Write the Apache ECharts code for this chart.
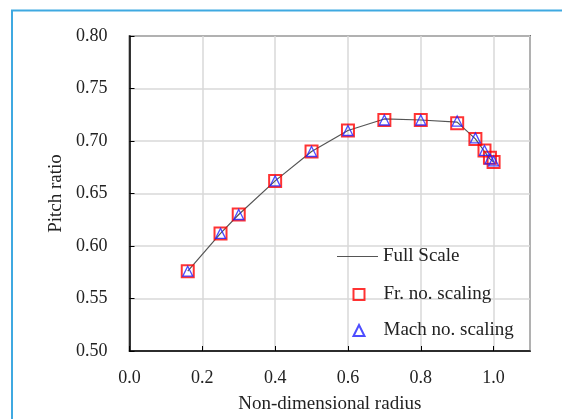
<!DOCTYPE html>
<html>
<head>
<meta charset="utf-8">
<script src="https://cdn.jsdelivr.net/npm/echarts@6/dist/echarts.min.js"></script>
<style>
html,body{margin:0;padding:0;background:#fff;}
#chart{width:562px;height:419px;}
</style>
</head>
<body>
<div id="chart"></div>
<script>
// Non-dimensional radius
var radius = [0.16, 0.25, 0.30, 0.40, 0.50, 0.60, 0.70, 0.80, 0.90, 0.95, 0.975, 0.99, 1.00];
// Full scale pitch ratio (line)
var fullScale = [0.576, 0.612, 0.630, 0.662, 0.690, 0.710, 0.721, 0.720, 0.718, 0.702, 0.690, 0.683, 0.680];
// Froude number scaling (squares)
var frScaling = [0.576, 0.612, 0.630, 0.662, 0.690, 0.710, 0.720, 0.720, 0.717, 0.702, 0.691, 0.684, 0.680];
// Mach number scaling (triangles)
var machScaling = [0.576, 0.612, 0.630, 0.662, 0.690, 0.710, 0.720, 0.720, 0.719, 0.703, 0.691, 0.683, 0.681];
var xTicks = [0.0, 0.2, 0.4, 0.6, 0.8, 1.0];
var yTicks = [0.50, 0.55, 0.60, 0.65, 0.70, 0.75, 0.80];
var names = ['Full Scale', 'Fr. no. scaling', 'Mach no. scaling'];

function pairs(xs, ys) { return xs.map(function (x, i) { return [x, ys[i]]; }); }

var font = '"Liberation Serif", "Times New Roman", serif';
var chart = echarts.init(document.getElementById('chart'));
chart.setOption({
  animation: false,
  backgroundColor: '#ffffff',
  graphic: [{
    type: 'polyline',
    shape: { points: [[12, 430], [12, 10.5], [580, 10.5]] },
    style: { stroke: '#3fa9e1', lineWidth: 2, fill: null },
    silent: true
  }],
  grid: { left: 129.5, right: 32, top: 36, bottom: 67.5, show: true, borderColor: '#000', borderWidth: 1.5 },
  xAxis: {
    type: 'value', min: 0, max: 1.1, interval: 0.2,
    name: 'Non-dimensional radius', nameLocation: 'middle', nameGap: 44,
    nameTextStyle: { fontFamily: font, fontSize: 19, color: '#222' },
    axisLine: { show: true, lineStyle: { color: '#000', width: 1.5 } },
    axisTick: { show: true, inside: true, length: 5, lineStyle: { color: '#000' } },
    axisLabel: {
      fontFamily: font, fontSize: 18, color: '#222', margin: 18,
      showMaxLabel: false,
      formatter: function (v) { return xTicks.indexOf(Math.round(v * 10) / 10) >= 0 ? v.toFixed(1) : ''; }
    },
    splitLine: { show: true, lineStyle: { color: '#d9d9d9', width: 1.5 } }
  },
  yAxis: {
    type: 'value', min: 0.5, max: 0.8, interval: 0.05,
    name: 'Pitch ratio', nameLocation: 'middle', nameGap: 62,
    nameTextStyle: { fontFamily: font, fontSize: 19, color: '#222' },
    axisLine: { show: true, lineStyle: { color: '#000', width: 1.5 } },
    axisTick: { show: true, inside: true, length: 5, lineStyle: { color: '#000' } },
    axisLabel: {
      fontFamily: font, fontSize: 18, color: '#222', margin: 22,
      formatter: function (v) { return v.toFixed(2); }
    },
    splitLine: { show: true, lineStyle: { color: '#d9d9d9', width: 1.5 } }
  },
  legend: [
    {
      data: [{ name: names[0], icon: 'rect' }], left: 337, top: 247, padding: 0, itemWidth: 41, itemHeight: 1.2,
      textStyle: { fontFamily: font, fontSize: 19, color: '#222' }
    },
    {
      data: [{ name: names[1], icon: 'rect' }], left: 352.5, top: 285, padding: 0, itemWidth: 11, itemHeight: 11,
      textStyle: { fontFamily: font, fontSize: 19, color: '#222', padding: [0, 0, 0, 14] }
    },
    {
      data: [{ name: names[2], icon: 'triangle' }], left: 352.5, top: 321, padding: 0, itemWidth: 11, itemHeight: 11,
      textStyle: { fontFamily: font, fontSize: 19, color: '#222', padding: [0, 0, 0, 14] }
    }
  ],
  series: [
    {
      name: names[0], type: 'line', data: pairs(radius, fullScale),
      symbol: 'none', z: 1,
      lineStyle: { color: '#555', width: 1.2 },
      itemStyle: { color: '#555' }
    },
    {
      name: names[1], type: 'scatter', data: pairs(radius, frScaling),
      symbol: 'rect', symbolSize: 12, z: 2,
      itemStyle: { color: 'rgba(255,255,255,0)', borderColor: '#ff0000', borderWidth: 2 }
    },
    {
      name: names[2], type: 'scatter', data: pairs(radius, machScaling),
      symbol: 'triangle', symbolSize: 10, z: 3,
      itemStyle: { color: 'rgba(255,255,255,0)', borderColor: '#2020ff', borderWidth: 1.3 }
    }
  ]
});
</script>
</body>
</html>
